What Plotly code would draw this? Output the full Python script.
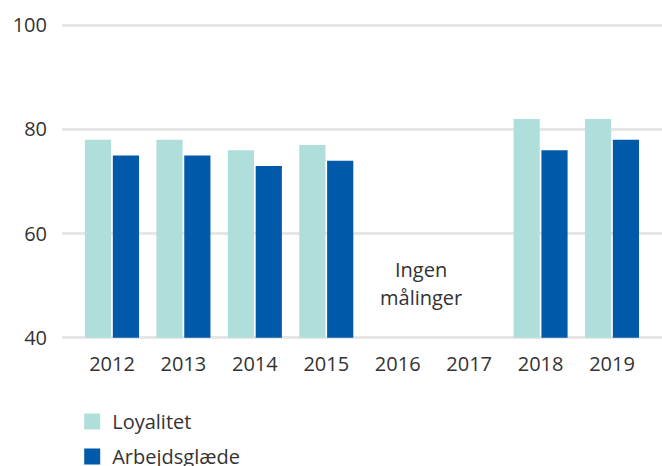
import plotly.graph_objects as go

years = ["2012", "2013", "2014", "2015", "2016", "2017", "2018", "2019"]
loyalitet = [78, 78, 76, 77, None, None, 82, 82]
arbejdsglaede = [75, 75, 73, 74, None, None, 76, 78]
y_ticks = [40, 60, 80, 100]
series_names = ["Loyalitet", "Arbejdsglæde"]
colors = ["#b0dfdb", "#005aa9"]

fig = go.Figure()
for name, vals, col in zip(series_names, [loyalitet, arbejdsglaede], colors):
    fig.add_trace(go.Bar(x=years, y=[None if v is None else v - 40 for v in vals], base=40,
                         name=name, marker_color=col, marker_line_width=0,
                         hoverinfo="skip", showlegend=False))
for i, (name, col) in enumerate(zip(series_names, colors)):
    fig.add_trace(go.Scatter(x=[None], y=[None], mode="markers", name=name,
                             marker=dict(symbol="square", size=18, color=col),
                             legendgroup=f"g{i}", showlegend=True))

fig.add_annotation(x=4.33, y=53.1, xref="x", yref="y", text="Ingen",
                   showarrow=False, font=dict(size=20, color="#333333"))
fig.add_annotation(x=4.33, y=47.8, xref="x", yref="y", text="målinger",
                   showarrow=False, font=dict(size=20, color="#333333"))

fig.update_layout(
    width=662, height=466,
    margin=dict(l=62, r=0, t=24, b=127, autoexpand=False),
    paper_bgcolor="white", plot_bgcolor="white",
    font=dict(family="Open Sans", size=20, color="#333333"),
    barmode="group", bargap=0.22, bargroupgap=0.06,
    showlegend=True,
    legend=dict(orientation="v", x=0.017, xanchor="left", y=-0.2, yanchor="top",
                font=dict(size=20, color="#333333"), itemwidth=30,
                tracegroupgap=6, bgcolor="rgba(0,0,0,0)"),
    xaxis=dict(type="category", range=[-0.7, 7.7], showgrid=False, showline=False,
               ticks="", ticklabelstandoff=11, automargin=False,
               tickfont=dict(size=20, color="#333333")),
    yaxis=dict(range=[39.75, 100.25], tickvals=y_ticks, showgrid=True, gridcolor="#e6e6e6",
               gridwidth=3, zeroline=False, ticks="", ticklabelstandoff=14, automargin=False,
               tickfont=dict(size=20, color="#333333")),
)

fig.write_html("out.html", config={"displayModeBar": False},
               post_script="document.body.style.margin='0';document.body.style.overflow='hidden';")
